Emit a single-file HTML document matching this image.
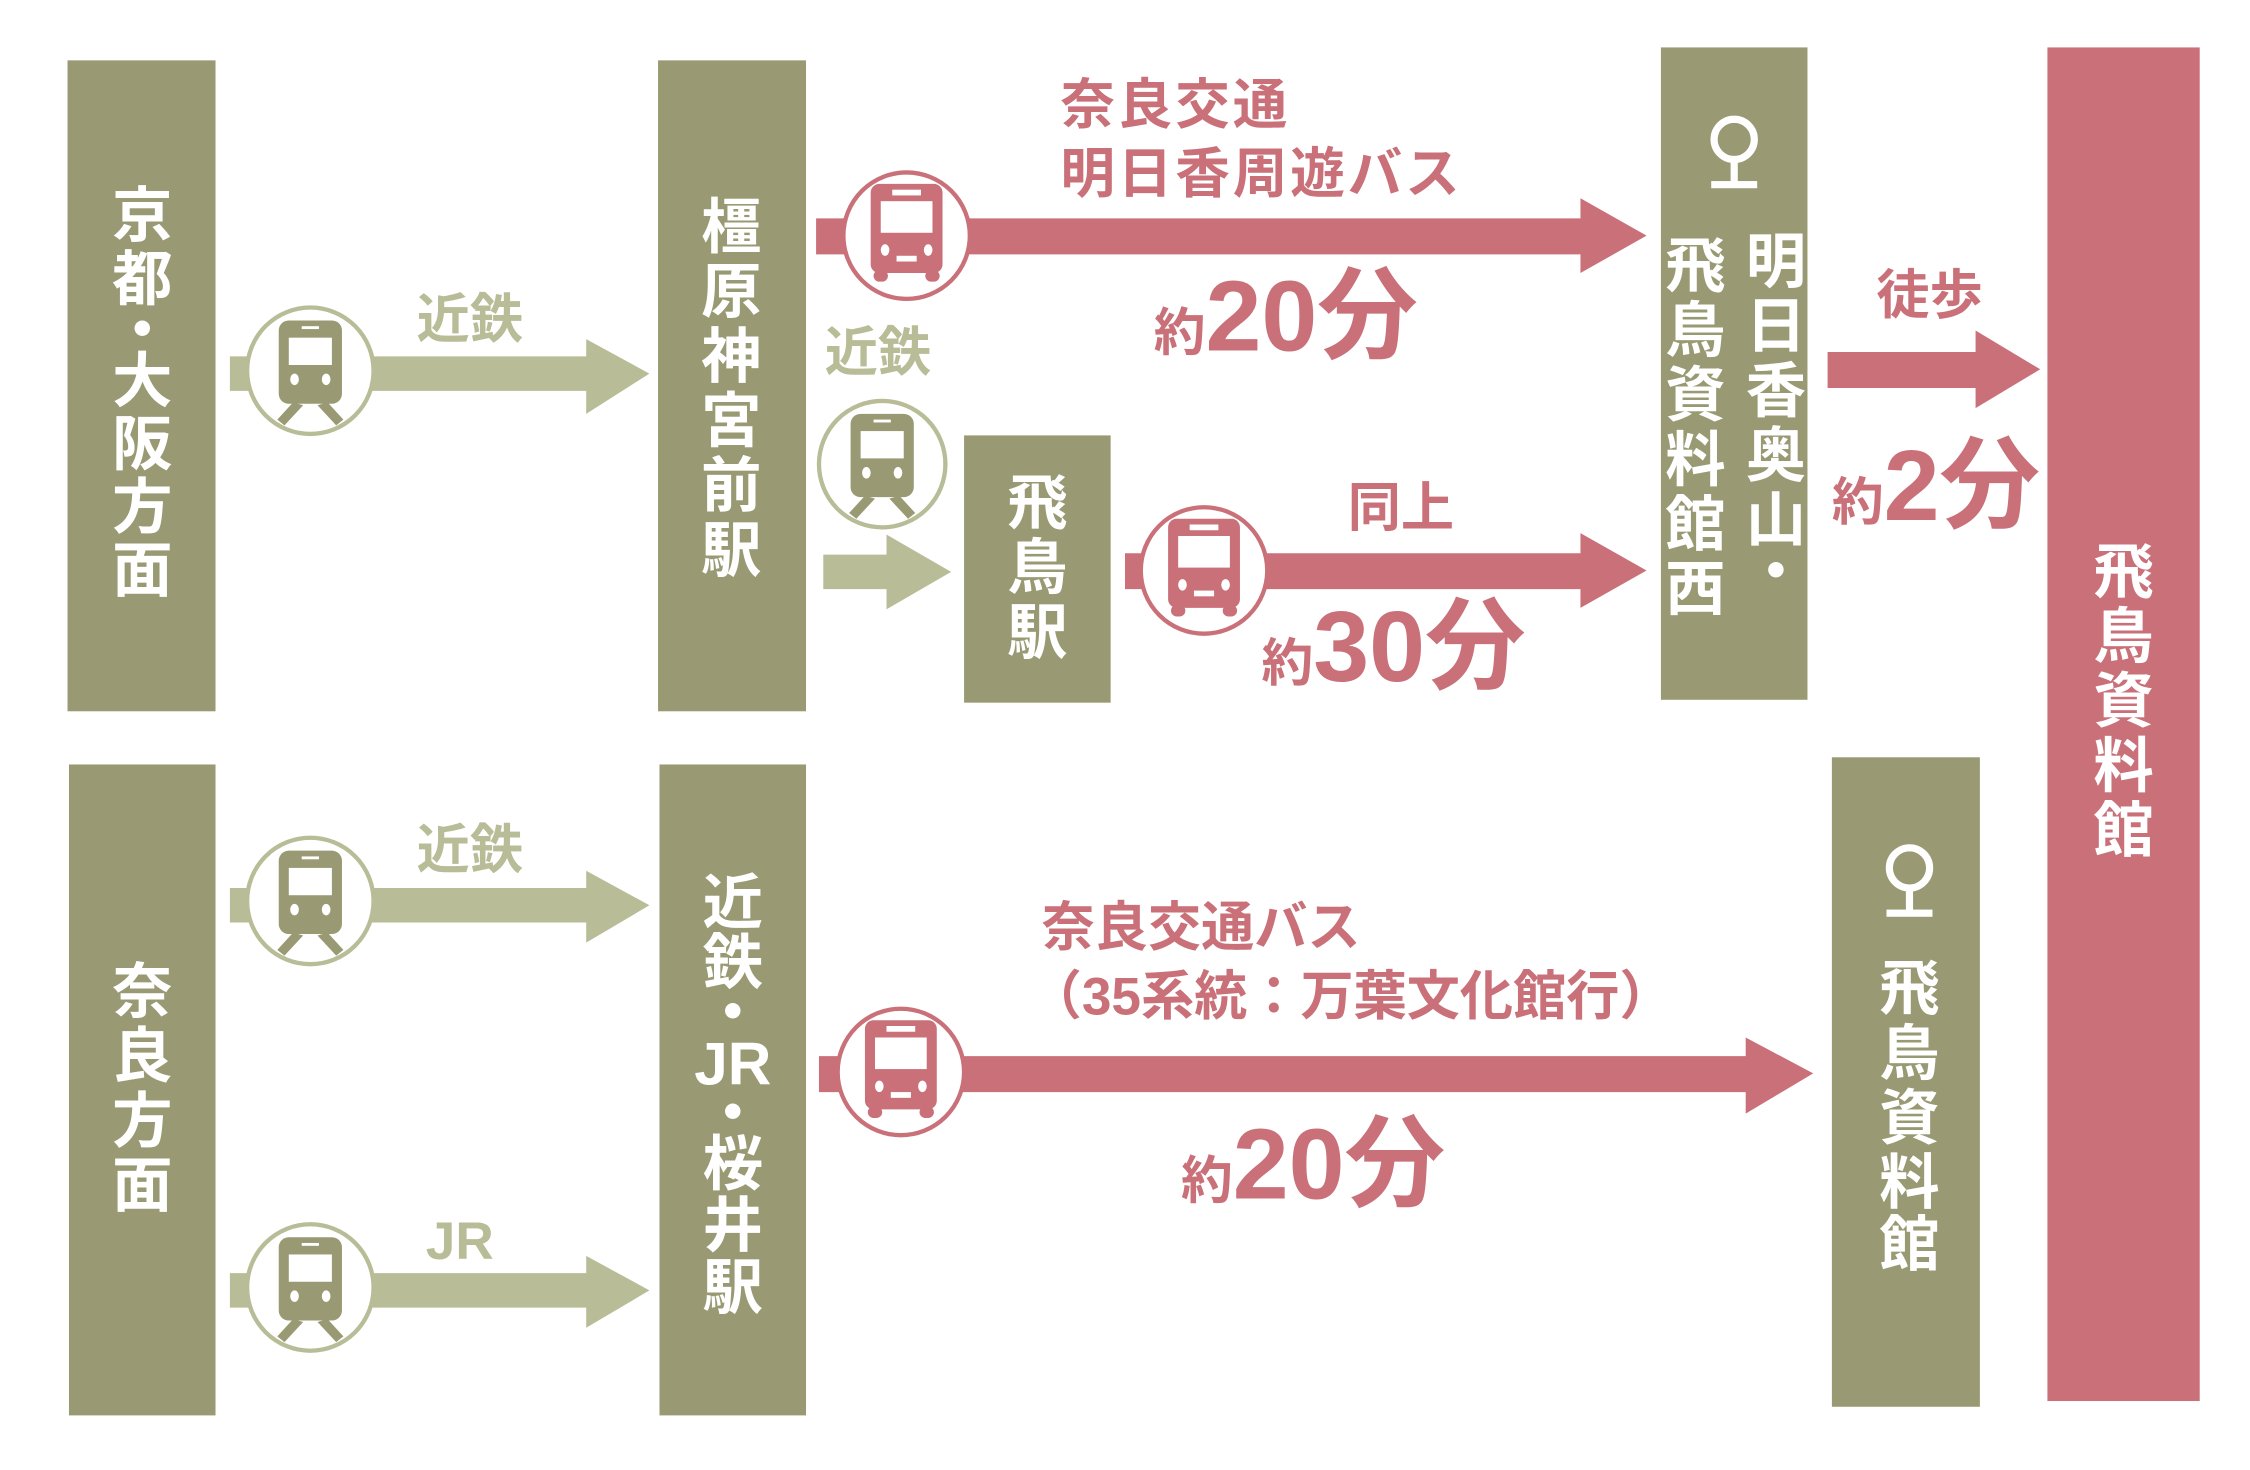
<!DOCTYPE html>
<html><head><meta charset="utf-8"><style>
html,body{margin:0;padding:0;background:#fff;width:2250px;height:1470px;overflow:hidden}
svg{display:block}
text{font-family:"Liberation Sans","Noto Sans CJK JP",sans-serif;font-weight:bold}
.w{fill:#fff;font-size:42px;text-anchor:middle;dominant-baseline:central}
.g{fill:#b8bd98}
.p{fill:#c97079}
</style></head><body>
<svg width="2250" height="1470" viewBox="0 0 1566 1023" preserveAspectRatio="none">
<defs>
<g id="train">
<circle r="44" fill="#fff" stroke="#b8bd98" stroke-width="3"/>
<rect x="-22" y="-35" width="44" height="58" rx="7" fill="#999a73"/>
<rect x="-15" y="-23" width="30" height="19" fill="#fff"/>
<rect x="-6" y="-31" width="12" height="2" fill="#fff"/>
<ellipse cx="-11" cy="6" rx="3" ry="4" fill="#fff"/>
<ellipse cx="11" cy="6" rx="3" ry="4" fill="#fff"/>
<path d="M-12 22 L-23 34 L-18 38 L-5 24 Z M12 22 L23 34 L18 38 L5 24 Z" fill="#999a73"/>
</g>
<g id="bus">
<circle r="44" fill="#fff" stroke="#c97079" stroke-width="3"/>
<rect x="-25" y="-36" width="50" height="62" rx="6" fill="#c97079"/>
<rect x="-18" y="-24" width="36" height="22" fill="#fff"/>
<rect x="-10" y="-32" width="20" height="4" fill="#fff"/>
<ellipse cx="-15" cy="10" rx="3" ry="4" fill="#fff"/>
<ellipse cx="15" cy="10" rx="3" ry="4" fill="#fff"/>
<rect x="-7" y="14" width="14" height="4" fill="#fff"/>
<rect x="-23" y="24" width="10" height="8" rx="4" fill="#c97079"/>
<rect x="13" y="24" width="10" height="8" rx="4" fill="#c97079"/>
</g>
<g id="pin">
<circle cx="0" cy="-8" r="14" fill="none" stroke="#fff" stroke-width="5"/>
<rect x="-2.5" y="6" width="5" height="18" fill="#fff"/>
<rect x="-16" y="21" width="32" height="5" fill="#fff"/>
</g>
</defs>

<rect x="47" y="42" width="103" height="453" fill="#999a73"/>
<rect x="458" y="42" width="103" height="453" fill="#999a73"/>
<rect x="671" y="303" width="102" height="186" fill="#999a73"/>
<rect x="1156" y="33" width="102" height="454" fill="#999a73"/>
<rect x="1425" y="33" width="106" height="942" fill="#c97079"/>
<rect x="48" y="532" width="102" height="453" fill="#999a73"/>
<rect x="459" y="532" width="102" height="453" fill="#999a73"/>
<rect x="1275" y="527" width="103" height="452" fill="#999a73"/>

<polygon class="g" points="160,248 408,248 408,236 452,260 408,288 408,272 160,272"/>
<polygon class="g" points="573,386 617,386 617,372 662,398 617,424 617,410 573,410"/>
<polygon class="g" points="160,618 408,618 408,606 452,630 408,656 408,642 160,642"/>
<polygon class="g" points="160,886 408,886 408,874 452,898 408,924 408,910 160,910"/>
<use href="#train" x="216" y="258"/>
<use href="#train" x="614" y="323"/>
<use href="#train" x="216" y="627"/>
<use href="#train" x="216" y="896"/>
<text class="g" x="327" y="235" font-size="37" text-anchor="middle">近鉄</text>
<text class="g" x="611" y="258" font-size="37" text-anchor="middle">近鉄</text>
<text class="g" x="327" y="604" font-size="37" text-anchor="middle">近鉄</text>
<text class="g" x="320" y="876" font-size="37" text-anchor="middle">JR</text>

<polygon class="p" points="568,152 1100,152 1100,138 1146,164 1100,190 1100,177 568,177"/>
<polygon class="p" points="783,385 1100,385 1100,371 1146,397 1100,423 1100,410 783,410"/>
<polygon class="p" points="1272,245 1375,245 1375,230 1420,257 1375,284 1375,270 1272,270"/>
<polygon class="p" points="570,735 1215,735 1215,722 1262,747 1215,775 1215,760 570,760"/>
<use href="#bus" x="631" y="164"/>
<use href="#bus" x="838" y="397"/>
<use href="#bus" x="627" y="746"/>

<text class="p" x="738" y="86" font-size="38" letter-spacing="2">奈良交通</text>
<text class="p" x="738" y="134" font-size="38" letter-spacing="2">明日香周遊バス</text>
<text class="p" x="803" y="244" font-size="36">約<tspan font-size="70">20分</tspan></text>
<text class="p" x="975" y="366" font-size="37" text-anchor="middle">同上</text>
<text class="p" x="878" y="474" font-size="36">約<tspan font-size="70">30分</tspan></text>
<text class="p" x="1343" y="218" font-size="37" text-anchor="middle">徒歩</text>
<text class="p" x="1275" y="362" font-size="36">約<tspan font-size="70">2分</tspan></text>
<text class="p" x="725" y="658" font-size="37">奈良交通バス</text>
<text class="p" x="716" y="706" font-size="37">（35系統：万葉文化館行）</text>
<text class="p" x="822" y="834" font-size="36">約<tspan font-size="70">20分</tspan></text>

<text class="w" x="99" y="150">京</text><text class="w" x="99" y="194">都</text><text class="w" x="99" y="230">・</text><text class="w" x="99" y="265">大</text><text class="w" x="99" y="309">阪</text><text class="w" x="99" y="353">方</text><text class="w" x="99" y="397">面</text>

<text class="w" x="509" y="158">橿</text><text class="w" x="509" y="203">原</text><text class="w" x="509" y="248">神</text><text class="w" x="509" y="293">宮</text><text class="w" x="509" y="338">前</text><text class="w" x="509" y="383">駅</text>

<text class="w" x="722" y="350">飛</text><text class="w" x="722" y="395">鳥</text><text class="w" x="722" y="440">駅</text>

<use href="#pin" x="1207" y="105"/>
<text class="w" x="1236" y="182">明</text><text class="w" x="1236" y="227">日</text><text class="w" x="1236" y="272">香</text><text class="w" x="1236" y="317">奥</text><text class="w" x="1236" y="362">山</text><text class="w" x="1236" y="398">・</text>
<text class="w" x="1180" y="185">飛</text><text class="w" x="1180" y="230">鳥</text><text class="w" x="1180" y="275">資</text><text class="w" x="1180" y="320">料</text><text class="w" x="1180" y="365">館</text><text class="w" x="1180" y="410">西</text>

<text class="w" x="1478" y="398">飛</text><text class="w" x="1478" y="443">鳥</text><text class="w" x="1478" y="488">資</text><text class="w" x="1478" y="533">料</text><text class="w" x="1478" y="578">館</text>

<text class="w" x="99" y="690">奈</text><text class="w" x="99" y="735">良</text><text class="w" x="99" y="780">方</text><text class="w" x="99" y="825">面</text>

<text class="w" x="510" y="628">近</text><text class="w" x="510" y="670">鉄</text><text class="w" x="510" y="705">・</text><text class="w" x="510" y="740" font-size="40">JR</text><text class="w" x="510" y="775">・</text><text class="w" x="510" y="810">桜</text><text class="w" x="510" y="853">井</text><text class="w" x="510" y="896">駅</text>

<use href="#pin" x="1329" y="612"/>
<text class="w" x="1329" y="688">飛</text><text class="w" x="1329" y="733">鳥</text><text class="w" x="1329" y="778">資</text><text class="w" x="1329" y="823">料</text><text class="w" x="1329" y="866">館</text>
</svg>
</body></html>
